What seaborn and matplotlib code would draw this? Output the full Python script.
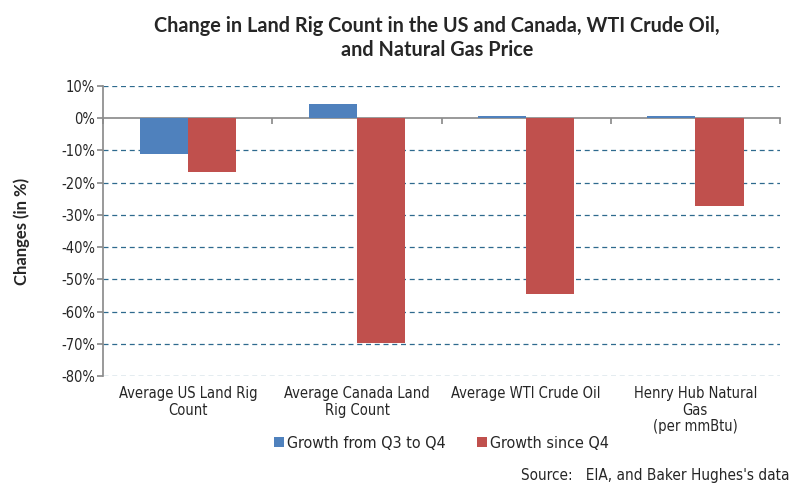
import matplotlib
matplotlib.use("Agg")
import matplotlib.pyplot as plt
import matplotlib.transforms as mtransforms
import seaborn as sns
import pandas as pd
import numpy as np

categories = ["Average US Land Rig\nCount", "Average Canada Land\nRig Count",
              "Average WTI Crude Oil", "Henry Hub Natural\nGas\n(per mmBtu)"]
series_names = ["Growth from Q3 to Q4", "Growth since Q4"]
growth_q3_q4 = [-11.0, 4.4, 0.7, 0.7]
growth_since_q4 = [-16.6, -69.8, -54.6, -27.2]
y_ticks = list(range(10, -90, -10))

df = pd.DataFrame({
    "Category": categories * 2,
    "Series": [series_names[0]] * 4 + [series_names[1]] * 4,
    "Value": growth_q3_q4 + growth_since_q4,
})

sns.set_theme(style="white")
plt.rcParams["font.family"] = ["DejaVu Sans"]
plt.rcParams["font.stretch"] = "condensed"

fig = plt.figure(figsize=(7.95, 4.99), dpi=100)
ax = fig.add_axes([0.130, 0.246, 0.851, 0.582])

sns.barplot(data=df, x="Category", y="Value", hue="Series",
            palette=["#4F81BD", "#C0504D"], width=0.57, saturation=1,
            linewidth=0, ax=ax, legend=True, zorder=3)

ax.set_ylim(-80, 10)
ax.set_xlim(-0.5, 3.5)
ax.set_yticks(y_ticks)
ax.set_yticklabels([f"{t}%" for t in y_ticks], fontsize=10.5)
# dashed gridlines, except at zero where the category axis sits
for t in y_ticks:
    if t != 0:
        ax.axhline(t, color="#2E6A8E", linestyle=(0, (4, 3)), linewidth=0.9, zorder=0)

for s in ["top", "right"]:
    ax.spines[s].set_visible(False)
ax.spines["left"].set_color("#8C8C8C")
ax.spines["bottom"].set_color("#8C8C8C")
ax.spines["bottom"].set_position(("data", 0))
ax.spines["bottom"].set_zorder(1)
ax.set_xticks([-0.5, 0.5, 1.5, 2.5, 3.5])
ax.set_xticklabels([])
ax.tick_params(axis="x", direction="out", length=4, color="#8C8C8C", bottom=True)
ax.tick_params(axis="y", direction="out", length=4, color="#8C8C8C", left=True, pad=2)

# category labels sit below the plot area, not at the zero line
trans = mtransforms.blended_transform_factory(ax.transData, ax.transAxes)
for i, c in enumerate(categories):
    ax.text(i, -0.035, c, transform=trans, ha="center", va="top",
            fontsize=10.5, linespacing=1.1)

ax.set_xlabel("")
ax.set_ylabel("Changes (in %)", fontsize=12, fontweight="bold", labelpad=22,
              family=["Lato", "DejaVu Sans"], fontstretch="normal")

handles, labels = ax.get_legend_handles_labels()
ax.legend(handles, labels, loc="center", bbox_to_anchor=(0.50, -0.23),
          ncol=2, frameon=False, fontsize=11.5, handlelength=0.6, handleheight=0.6,
          handletextpad=0.2, columnspacing=2.0)

fig.text(0.55, 0.968, "Change in Land Rig Count in the US and Canada, WTI Crude Oil,\nand Natural Gas Price",
         ha="center", va="top", fontsize=14.3, fontweight="bold", linespacing=1.25,
         family=["Lato", "DejaVu Sans"], fontstretch="normal")
fig.text(0.993, 0.048, "Source:   EIA, and Baker Hughes's data", ha="right", va="center", fontsize=11)

fig.savefig("out.png", dpi=100)
